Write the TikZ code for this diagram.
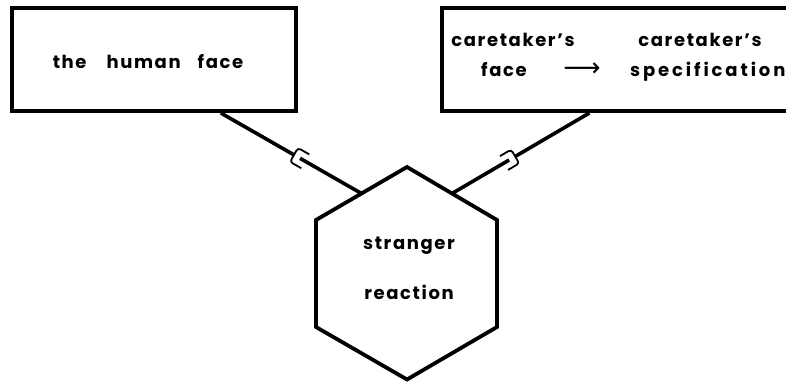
\documentclass[tikz,border=0pt]{standalone}
\usepackage{fontspec}
\newfontfamily\labelfont{Poppins}[LetterSpace=9]
\newfontfamily\symfont{DejaVu Sans}
\usetikzlibrary{calc}
\begin{document}
\begin{tikzpicture}[x=1pt,y=-1pt,line join=miter,
  frame/.style={draw,line width=4pt,inner sep=0pt},
  link/.style={line width=3.6pt},
  cup/.style={line width=1.8pt,rounded corners=3pt},
  lbl/.style={font=\labelfont\bfseries\fontsize{18}{18}\selectfont,inner sep=0pt,anchor=base}]
\useasboundingbox (0,0) rectangle (786,382);
% boxes
\node[frame,minimum width=284,minimum height=103] (lbox) at (154,59.5) {};
\node[frame,minimum width=388,minimum height=103] (rbox) at (636,59.5) {};
% hexagon
\coordinate (ht) at (407,167);
\coordinate (hr1) at (497,220);
\coordinate (hr2) at (497,327);
\coordinate (hb) at (407,379.5);
\coordinate (hl2) at (316,327);
\coordinate (hl1) at (316,220);
\draw[line width=3.8pt] (ht) -- (hr1) -- (hr2) -- (hb) -- (hl2) -- (hl1) -- cycle;
% attachment points
\coordinate (la) at ($(lbox.south west)!0.732!(lbox.south east)$);
\coordinate (ra) at ($(rbox.south west)!0.381!(rbox.south east)$);
\coordinate (hla) at ($(hl1)!0.5!(ht)$);
\coordinate (hra) at ($(ht)!0.5!(hr1)$);
% left socket
\coordinate (lcb) at ($(la)!0.52!(hla)$);
\coordinate (lpl) at ($(lcb)!7pt!(hla)$);
\coordinate (ld) at ($(lcb)!13pt!(hla)$);
\coordinate (lc1) at ($(lcb)!8pt!90:(hla)$);
\coordinate (lc2) at ($(lcb)!8pt!-90:(hla)$);
\coordinate (lc1e) at ($(lc1)+(ld)-(lcb)$);
\coordinate (lc2e) at ($(lc2)+(ld)-(lcb)$);
% right socket
\coordinate (rcb) at ($(ra)!0.54!(hra)$);
\coordinate (rpl) at ($(rcb)!7pt!(hra)$);
\coordinate (rd) at ($(rcb)!13pt!(hra)$);
\coordinate (rc1) at ($(rcb)!8pt!90:(hra)$);
\coordinate (rc2) at ($(rcb)!8pt!-90:(hra)$);
\coordinate (rc1e) at ($(rc1)+(rd)-(rcb)$);
\coordinate (rc2e) at ($(rc2)+(rd)-(rcb)$);
% connectors
\draw[link] (la) -- (lcb);
\draw[link] (lpl) -- (hla);
\draw[link] (ra) -- (rcb);
\draw[link] (rpl) -- (hra);
\draw[cup] (lc1e) -- (lc1) -- (lc2) -- (lc2e);
\draw[cup] (rc1e) -- (rc1) -- (rc2) -- (rc2e);
% texts
\node[lbl] (t1) at (148,69) {the\hspace{20pt}human\hspace{17pt}face};
\node[lbl] (t2) at (513,47) {caretaker’s};
\node[lbl] (t3) at (700,47) {caretaker’s};
\node[lbl] (t4) at (504,77) {face};
\node[inner sep=0pt,anchor=base] (t5) at (582,77) {\symfont\fontsize{26}{26}\selectfont ⟶};
\node[lbl,anchor=base west] (t6) at (630,77) {\addfontfeature{LetterSpace=16}specification};
\node[lbl] (t7) at (409,249) {stranger};
\node[lbl] (t8) at (409,299) {reaction};
\end{tikzpicture}
\end{document}
